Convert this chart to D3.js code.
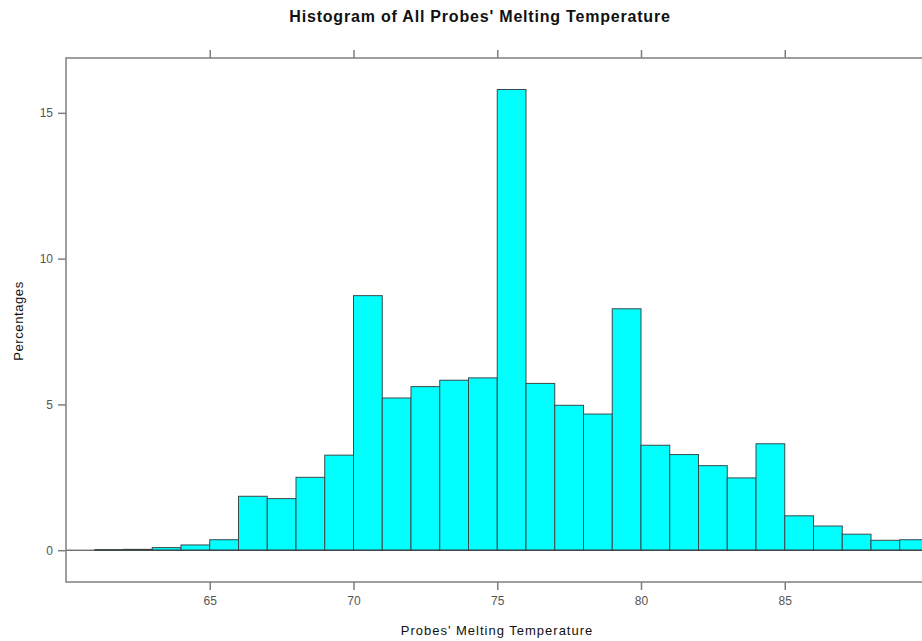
<!DOCTYPE html>
<html>
<head>
<meta charset="utf-8">
<script src="https://cdn.jsdelivr.net/npm/d3@7"></script>
<style>
  body { margin: 0; background: #fff; }
  svg { display: block; font-family: "Liberation Sans", Arial, sans-serif; }
</style>
</head>
<body>
<script>
// bin left edges (width 1) and percentages
const binStarts = [61, 62, 63, 64, 65, 66, 67, 68, 69, 70, 71, 72, 73, 74, 75,
                   76, 77, 78, 79, 80, 81, 82, 83, 84, 85, 86, 87, 88, 89];
const percents = [0.02, 0.03, 0.09, 0.18, 0.36, 1.85, 1.77, 2.50, 3.26, 8.73, 5.22, 5.61, 5.83, 5.91, 15.80,
                  5.72, 4.97, 4.67, 8.28, 3.60, 3.28, 2.90, 2.48, 3.65, 1.18, 0.83, 0.55, 0.34, 0.36];
const xTicks = [65, 70, 75, 80, 85];
const yTicks = [0, 5, 10, 15];
const binWidth = 1;

const W = 922, H = 641;
const panel = { left: 66, top: 58, bottom: 582 };

const svg = d3.select('body').append('svg')
    .attr('width', W)
    .attr('height', H);

// x: 28.75px per degree, 60 sits on the left border
const xScale = d3.scaleLinear()
    .domain([60, 91])
    .range([panel.left, panel.left + 31 * 28.75]);

const yScale = d3.scaleLinear()
    .domain([-1.09, 16.88])
    .range([panel.bottom, panel.top]);

const axisColor = '#7f7f7f';
const labelColor = '#555';

// bars
svg.append('g').selectAll('rect')
    .data(binStarts)
    .enter().append('rect')
    .attr('x', d => xScale(d))
    .attr('y', (d, i) => yScale(percents[i]))
    .attr('width', d => xScale(d + binWidth) - xScale(d))
    .attr('height', (d, i) => yScale(0) - yScale(percents[i]))
    .attr('fill', '#00ffff')
    .attr('stroke', '#3a4a4a')
    .attr('stroke-width', 1);

// zero line across the panel
svg.append('line')
    .attr('x1', xScale.range()[0]).attr('x2', xScale.range()[1])
    .attr('y1', yScale(0)).attr('y2', yScale(0))
    .attr('stroke', '#333')
    .attr('stroke-width', 1);

// panel box
svg.append('rect')
    .attr('x', panel.left)
    .attr('y', panel.top)
    .attr('width', xScale.range()[1] - panel.left)
    .attr('height', panel.bottom - panel.top)
    .attr('fill', 'none')
    .attr('stroke', axisColor)
    .attr('stroke-width', 1.5);

// bottom axis
const xAxisB = svg.append('g')
    .attr('transform', 'translate(0,' + panel.bottom + ')')
    .call(d3.axisBottom(xScale).tickValues(xTicks).tickSize(8).tickPadding(6).tickFormat(d3.format('d')))
    .call(g => g.select('.domain').remove());

// top axis, ticks only
const xAxisT = svg.append('g')
    .attr('transform', 'translate(0,' + panel.top + ')')
    .call(d3.axisTop(xScale).tickValues(xTicks).tickSize(8).tickFormat(''))
    .call(g => g.select('.domain').remove());

// left axis
const yAxis = svg.append('g')
    .attr('transform', 'translate(' + panel.left + ',0)')
    .call(d3.axisLeft(yScale).tickValues(yTicks).tickSize(8).tickPadding(5))
    .call(g => g.select('.domain').remove());

[xAxisB, xAxisT, yAxis].forEach(g => {
    g.selectAll('.tick line').attr('stroke', axisColor).attr('stroke-width', 1.5);
    g.selectAll('.tick text')
        .attr('fill', labelColor)
        .style('font-size', '12px')
        .style('font-family', '"Liberation Sans", Arial, sans-serif');
});

// title
svg.append('text')
    .attr('x', 480)
    .attr('y', 22)
    .attr('text-anchor', 'middle')
    .style('font-size', '16px')
    .style('letter-spacing', '0.8px')
    .style('font-weight', 'bold')
    .attr('fill', '#111')
    .text("Histogram of All Probes' Melting Temperature");

// x label
svg.append('text')
    .attr('x', 497)
    .attr('y', 635)
    .attr('text-anchor', 'middle')
    .style('font-size', '13px')
    .style('letter-spacing', '1px')
    .attr('fill', '#111')
    .text("Probes' Melting Temperature");

// y label
svg.append('text')
    .attr('transform', 'translate(23,321) rotate(-90)')
    .attr('text-anchor', 'middle')
    .style('font-size', '13px')
    .style('letter-spacing', '0.6px')
    .attr('fill', '#111')
    .text('Percentages');
</script>
</body>
</html>
